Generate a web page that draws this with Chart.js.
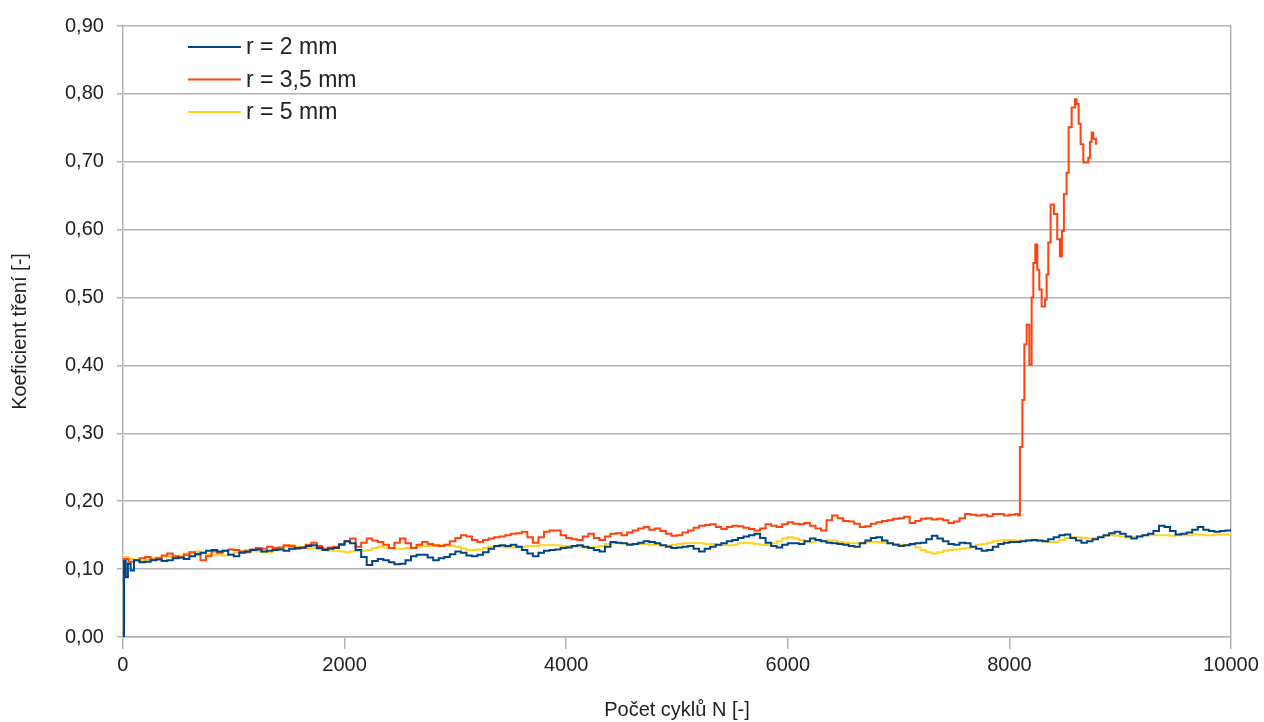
<!DOCTYPE html>
<html lang="cs">
<head>
<meta charset="utf-8">
<title>Koeficient tření</title>
<script src="https://cdn.jsdelivr.net/npm/chart.js@4.4.1/dist/chart.umd.min.js"></script>
<style>
  html, body { margin: 0; padding: 0; background: #fff; }
  #graf { display: block; }
</style>
</head>
<body>
<canvas id="graf" width="1264" height="722"></canvas>
<script>
// r = 2 mm
var cykly2 = [0, 10, 25, 45, 70,
  100, 150, 200, 250, 300, 350, 400, 450, 500, 550, 600, 650, 700, 750, 800, 850, 900, 950, 1000,
  1050, 1100, 1150, 1200, 1250, 1300, 1350, 1400, 1450, 1500, 1550, 1600, 1650, 1700, 1750, 1800, 1850, 1900, 1950, 2000,
  2050, 2100, 2150, 2200, 2250, 2300, 2350, 2400, 2450, 2500, 2550, 2600, 2650, 2700, 2750, 2800, 2850, 2900, 2950, 3000,
  3050, 3100, 3150, 3200, 3250, 3300, 3350, 3400, 3450, 3500, 3550, 3600, 3650, 3700, 3750, 3800, 3850, 3900, 3950, 4000,
  4050, 4100, 4150, 4200, 4250, 4300, 4350, 4400, 4450, 4500, 4550, 4600, 4650, 4700, 4750, 4800, 4850, 4900, 4950, 5000,
  5050, 5100, 5150, 5200, 5250, 5300, 5350, 5400, 5450, 5500, 5550, 5600, 5650, 5700, 5750, 5800, 5850, 5900, 5950, 6000,
  6050, 6100, 6150, 6200, 6250, 6300, 6350, 6400, 6450, 6500, 6550, 6600, 6650, 6700, 6750, 6800, 6850, 6900, 6950, 7000,
  7050, 7100, 7150, 7200, 7250, 7300, 7350, 7400, 7450, 7500, 7550, 7600, 7650, 7700, 7750, 7800, 7850, 7900, 7950, 8000,
  8050, 8100, 8150, 8200, 8250, 8300, 8350, 8400, 8450, 8500, 8550, 8600, 8650, 8700, 8750, 8800, 8850, 8900, 8950, 9000,
  9050, 9100, 9150, 9200, 9250, 9300, 9350, 9400, 9450, 9500, 9550, 9600, 9650, 9700, 9750, 9800, 9850, 9900, 9950, 10000]
var treni2 = [0.000, 0.112, 0.088, 0.108, 0.098,
  0.113, 0.110, 0.111, 0.113, 0.114, 0.112, 0.113, 0.116, 0.117, 0.115, 0.119, 0.122, 0.124, 0.127, 0.128, 0.126, 0.127, 0.121, 0.119,
  0.124, 0.126, 0.128, 0.129, 0.126, 0.127, 0.128, 0.129, 0.127, 0.130, 0.131, 0.132, 0.134, 0.135, 0.131, 0.128, 0.130, 0.131, 0.136, 0.141,
  0.138, 0.128, 0.118, 0.106, 0.112, 0.115, 0.113, 0.110, 0.107, 0.108, 0.113, 0.119, 0.121, 0.121, 0.117, 0.113, 0.116, 0.118, 0.122, 0.126,
  0.124, 0.120, 0.119, 0.121, 0.125, 0.130, 0.134, 0.135, 0.134, 0.136, 0.133, 0.128, 0.123, 0.119, 0.124, 0.127, 0.128, 0.129, 0.131, 0.132,
  0.134, 0.135, 0.133, 0.131, 0.128, 0.126, 0.133, 0.140, 0.139, 0.138, 0.136, 0.137, 0.139, 0.141, 0.140, 0.138, 0.135, 0.133, 0.131, 0.132,
  0.133, 0.134, 0.130, 0.126, 0.130, 0.133, 0.136, 0.138, 0.141, 0.143, 0.146, 0.148, 0.150, 0.152, 0.146, 0.139, 0.134, 0.132, 0.136, 0.138,
  0.138, 0.137, 0.141, 0.145, 0.143, 0.141, 0.139, 0.138, 0.137, 0.136, 0.134, 0.133, 0.138, 0.142, 0.146, 0.147, 0.142, 0.138, 0.136, 0.134,
  0.135, 0.137, 0.138, 0.139, 0.144, 0.149, 0.145, 0.141, 0.137, 0.136, 0.139, 0.138, 0.133, 0.130, 0.127, 0.128, 0.133, 0.137, 0.139, 0.140,
  0.140, 0.141, 0.142, 0.143, 0.142, 0.141, 0.144, 0.147, 0.150, 0.151, 0.146, 0.142, 0.139, 0.141, 0.144, 0.147, 0.150, 0.153, 0.155, 0.152,
  0.148, 0.145, 0.148, 0.150, 0.152, 0.156, 0.164, 0.162, 0.156, 0.151, 0.152, 0.154, 0.158, 0.162, 0.158, 0.156, 0.155, 0.156, 0.157, 0.159]

// r = 3,5 mm (po zadření kolem 8100 cyklů prudký nárůst, měření ukončeno)
var cykly35 = [0, 50, 100, 150, 200, 250, 300, 350, 400, 450, 500, 550, 600, 650, 700, 750, 800, 850, 900, 950, 1000,
  1050, 1100, 1150, 1200, 1250, 1300, 1350, 1400, 1450, 1500, 1550, 1600, 1650, 1700, 1750, 1800, 1850, 1900, 1950, 2000,
  2050, 2100, 2150, 2200, 2250, 2300, 2350, 2400, 2450, 2500, 2550, 2600, 2650, 2700, 2750, 2800, 2850, 2900, 2950, 3000,
  3050, 3100, 3150, 3200, 3250, 3300, 3350, 3400, 3450, 3500, 3550, 3600, 3650, 3700, 3750, 3800, 3850, 3900, 3950, 4000,
  4050, 4100, 4150, 4200, 4250, 4300, 4350, 4400, 4450, 4500, 4550, 4600, 4650, 4700, 4750, 4800, 4850, 4900, 4950, 5000,
  5050, 5100, 5150, 5200, 5250, 5300, 5350, 5400, 5450, 5500, 5550, 5600, 5650, 5700, 5750, 5800, 5850, 5900, 5950, 6000,
  6050, 6100, 6150, 6200, 6250, 6300, 6350, 6400, 6450, 6500, 6550, 6600, 6650, 6700, 6750, 6800, 6850, 6900, 6950, 7000,
  7050, 7100, 7150, 7200, 7250, 7300, 7350, 7400, 7450, 7500, 7550, 7600, 7650, 7700, 7750, 7800, 7850, 7900, 7950, 8000,
  8050, 8080,
  8095, 8117, 8135, 8156, 8180, 8201, 8216, 8234, 8252, 8270, 8291,
  8321, 8336, 8351, 8372, 8402, 8432, 8456, 8474, 8492, 8516, 8535,
  8562, 8592, 8607, 8625, 8643, 8667, 8697, 8712, 8727, 8742, 8757, 8781]
var treni35 = [0.115, 0.111, 0.113, 0.116, 0.118, 0.114, 0.116, 0.120, 0.123, 0.119, 0.117, 0.121, 0.125, 0.122, 0.113, 0.119, 0.126, 0.124, 0.127, 0.129, 0.128,
  0.126, 0.125, 0.129, 0.131, 0.130, 0.133, 0.131, 0.132, 0.135, 0.134, 0.130, 0.131, 0.136, 0.139, 0.134, 0.130, 0.132, 0.133, 0.137, 0.141,
  0.145, 0.133, 0.139, 0.145, 0.142, 0.140, 0.136, 0.131, 0.139, 0.145, 0.138, 0.131, 0.136, 0.140, 0.137, 0.135, 0.134, 0.136, 0.141, 0.146,
  0.150, 0.148, 0.143, 0.140, 0.143, 0.145, 0.147, 0.148, 0.150, 0.152, 0.153, 0.155, 0.147, 0.139, 0.147, 0.155, 0.157, 0.157, 0.150, 0.146,
  0.144, 0.143, 0.148, 0.152, 0.146, 0.143, 0.148, 0.152, 0.153, 0.150, 0.154, 0.157, 0.160, 0.162, 0.158, 0.160, 0.156, 0.152, 0.149, 0.150,
  0.154, 0.157, 0.161, 0.164, 0.165, 0.166, 0.162, 0.159, 0.162, 0.164, 0.163, 0.161, 0.159, 0.157, 0.160, 0.166, 0.164, 0.162, 0.166, 0.169,
  0.167, 0.166, 0.168, 0.164, 0.160, 0.157, 0.172, 0.179, 0.175, 0.171, 0.170, 0.167, 0.162, 0.163, 0.167, 0.169, 0.171, 0.172, 0.174, 0.175,
  0.177, 0.168, 0.171, 0.174, 0.175, 0.173, 0.174, 0.172, 0.168, 0.170, 0.175, 0.181, 0.180, 0.179, 0.180, 0.178, 0.181, 0.181, 0.179, 0.180,
  0.181, 0.179,
  0.280, 0.349, 0.431, 0.460, 0.401, 0.500, 0.551, 0.578, 0.541, 0.512, 0.487,
  0.497, 0.534, 0.581, 0.637, 0.623, 0.586, 0.561, 0.598, 0.652, 0.684, 0.751,
  0.780, 0.792, 0.785, 0.756, 0.726, 0.699, 0.699, 0.706, 0.729, 0.743, 0.734, 0.725]

// r = 5 mm
var cykly5 = [0, 50, 100, 150, 200, 250, 300, 350, 400, 450, 500, 550, 600, 650, 700, 750, 800, 850, 900, 950, 1000,
  1050, 1100, 1150, 1200, 1250, 1300, 1350, 1400, 1450, 1500, 1550, 1600, 1650, 1700, 1750, 1800, 1850, 1900, 1950, 2000,
  2050, 2100, 2150, 2200, 2250, 2300, 2350, 2400, 2450, 2500, 2550, 2600, 2650, 2700, 2750, 2800, 2850, 2900, 2950, 3000,
  3050, 3100, 3150, 3200, 3250, 3300, 3350, 3400, 3450, 3500, 3550, 3600, 3650, 3700, 3750, 3800, 3850, 3900, 3950, 4000,
  4050, 4100, 4150, 4200, 4250, 4300, 4350, 4400, 4450, 4500, 4550, 4600, 4650, 4700, 4750, 4800, 4850, 4900, 4950, 5000,
  5050, 5100, 5150, 5200, 5250, 5300, 5350, 5400, 5450, 5500, 5550, 5600, 5650, 5700, 5750, 5800, 5850, 5900, 5950, 6000,
  6050, 6100, 6150, 6200, 6250, 6300, 6350, 6400, 6450, 6500, 6550, 6600, 6650, 6700, 6750, 6800, 6850, 6900, 6950, 7000,
  7050, 7100, 7150, 7200, 7250, 7300, 7350, 7400, 7450, 7500, 7550, 7600, 7650, 7700, 7750, 7800, 7850, 7900, 7950, 8000,
  8050, 8100, 8150, 8200, 8250, 8300, 8350, 8400, 8450, 8500, 8550, 8600, 8650, 8700, 8750, 8800, 8850, 8900, 8950, 9000,
  9050, 9100, 9150, 9200, 9250, 9300, 9350, 9400, 9450, 9500, 9550, 9600, 9650, 9700, 9750, 9800, 9850, 9900, 9950, 10000]
var treni5 = [0.118, 0.115, 0.113, 0.112, 0.114, 0.116, 0.117, 0.119, 0.118, 0.119, 0.120, 0.123, 0.125, 0.126, 0.124, 0.122, 0.121, 0.121, 0.120, 0.122, 0.124,
  0.126, 0.128, 0.127, 0.126, 0.125, 0.125, 0.128, 0.130, 0.133, 0.135, 0.133, 0.132, 0.131, 0.131, 0.129, 0.128, 0.127, 0.127, 0.126, 0.125,
  0.126, 0.127, 0.127, 0.128, 0.131, 0.133, 0.132, 0.131, 0.130, 0.130, 0.131, 0.132, 0.133, 0.134, 0.134, 0.134, 0.135, 0.135, 0.134, 0.133,
  0.130, 0.128, 0.128, 0.129, 0.131, 0.133, 0.133, 0.133, 0.132, 0.132, 0.133, 0.133, 0.134, 0.134, 0.135, 0.135, 0.135, 0.135, 0.134, 0.134,
  0.133, 0.133, 0.132, 0.132, 0.133, 0.134, 0.137, 0.138, 0.138, 0.138, 0.137, 0.137, 0.137, 0.137, 0.136, 0.136, 0.135, 0.135, 0.136, 0.137,
  0.138, 0.138, 0.138, 0.138, 0.137, 0.137, 0.136, 0.135, 0.135, 0.136, 0.138, 0.139, 0.138, 0.137, 0.136, 0.135, 0.138, 0.141, 0.145, 0.147,
  0.145, 0.143, 0.141, 0.140, 0.141, 0.142, 0.142, 0.142, 0.140, 0.139, 0.138, 0.138, 0.139, 0.140, 0.140, 0.140, 0.139, 0.138, 0.137, 0.136,
  0.135, 0.135, 0.132, 0.128, 0.125, 0.123, 0.125, 0.127, 0.128, 0.129, 0.130, 0.131, 0.133, 0.136, 0.137, 0.139, 0.141, 0.142, 0.143, 0.143,
  0.142, 0.142, 0.142, 0.142, 0.141, 0.141, 0.140, 0.140, 0.143, 0.146, 0.147, 0.147, 0.146, 0.145, 0.146, 0.148, 0.149, 0.150, 0.149, 0.148,
  0.147, 0.147, 0.148, 0.150, 0.150, 0.150, 0.150, 0.150, 0.149, 0.150, 0.150, 0.150, 0.151, 0.151, 0.150, 0.150, 0.151, 0.151, 0.151, 0.152]

var popisky = ['r = 2 mm', 'r = 3,5 mm', 'r = 5 mm']
var barvy = ['#004586', '#ff420e', '#ffd320']

var xTicky = [0, 2000, 4000, 6000, 8000, 10000]
var yTicky = [0, 0.1, 0.2, 0.3, 0.4, 0.5, 0.6, 0.7, 0.8, 0.9]

function body(cykly, hodnoty) {
  return cykly.map((c, i) => ({ x: c, y: hodnoty[i] }))
}

const seda = '#b3b3b3'
const pismo = { family: "'Liberation Sans', Arial, sans-serif", size: 20 }

// legenda uvnitř grafu, vlevo nahoře
const legendaUvnitr = {
  id: 'legendaUvnitr',
  afterDraw(chart) {
    const c = chart.ctx
    const a = chart.chartArea
    c.save()
    c.font = "23px 'Liberation Sans', Arial, sans-serif"
    c.textBaseline = 'middle'
    c.fillStyle = '#222'
    chart.data.datasets.forEach((ds, i) => {
      const y = a.top + 21 + i * 32.5
      c.strokeStyle = ds.borderColor
      c.lineWidth = 2
      c.beginPath()
      c.moveTo(a.left + 65, y)
      c.lineTo(a.left + 118, y)
      c.stroke()
      c.fillText(ds.label, a.left + 123, y + 1)
    })
    c.restore()
  }
}

const ctx = document.getElementById('graf').getContext('2d')

new Chart(ctx, {
  type: 'line',
  data: {
    datasets: [
      { label: popisky[0], data: body(cykly2, treni2), borderColor: barvy[0] },
      { label: popisky[1], data: body(cykly35, treni35), borderColor: barvy[1] },
      { label: popisky[2], data: body(cykly5, treni5), borderColor: barvy[2] }
    ]
  },
  options: {
    responsive: false,
    animation: false,
    events: [],
    elements: {
      point: { radius: 0 },
      line: { borderWidth: 2, tension: 0, fill: false, stepped: true }
    },
    layout: { padding: { top: 26, right: 33, left: 4, bottom: 0 } },
    plugins: {
      legend: { display: false },
      tooltip: { enabled: false }
    },
    scales: {
      x: {
        type: 'linear',
        min: 0,
        max: 10000,
        afterBuildTicks: (s) => { s.ticks = xTicky.map(v => ({ value: v })) },
        ticks: {
          padding: 4,
          color: '#222',
          font: pismo,
          maxRotation: 0,
          callback: (v) => String(v)
        },
        grid: {
          color: (c) => (c.tick && c.tick.value === 10000 ? seda : 'rgba(0,0,0,0)'),
          tickColor: seda,
          tickLength: 12,
          lineWidth: 1.5
        },
        border: { color: seda, width: 1.5 },
        title: {
          display: true,
          text: 'Počet cyklů N [-]',
          color: '#222',
          font: pismo,
          padding: { top: 17, bottom: 0 }
        }
      },
      y: {
        min: 0,
        max: 0.9,
        afterBuildTicks: (s) => { s.ticks = yTicky.map(v => ({ value: v })) },
        ticks: {
          padding: 13,
          color: '#222',
          font: pismo,
          callback: (v) => v.toFixed(2).replace('.', ',')
        },
        grid: {
          color: seda,
          tickColor: seda,
          tickLength: 6,
          lineWidth: 1.5
        },
        border: { color: seda, width: 1.5 },
        title: {
          display: true,
          text: 'Koeficient tření [-]',
          color: '#222',
          font: pismo,
          padding: { top: 4, bottom: 20 }
        }
      }
    }
  },
  plugins: [legendaUvnitr]
})
</script>
</body>
</html>
